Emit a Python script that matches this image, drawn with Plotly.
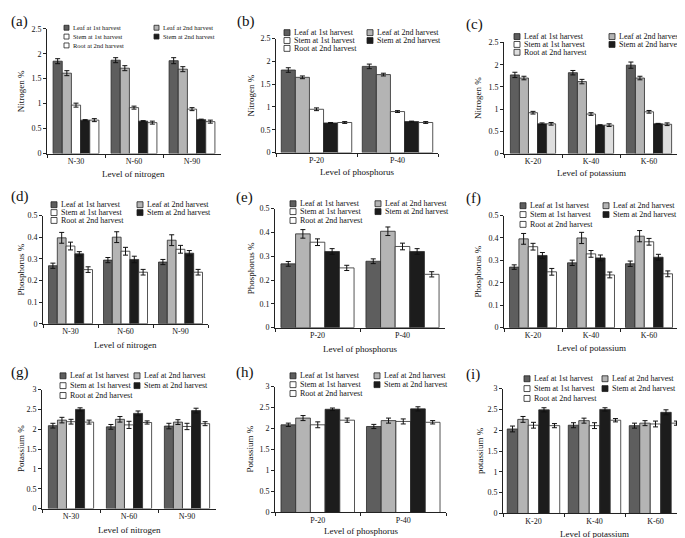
import plotly.graph_objects as go

W, H = 685, 538

series_names = ["Leaf at 1st harvest", "Leaf at 2nd harvest", "Stem at 1st harvest",
                "Stem at 2nd harvest", "Root at 2nd harvest"]

n_levels = ["N-30", "N-60", "N-90"]
p_levels = ["P-20", "P-40"]
k_levels = ["K-20", "K-40", "K-60"]

# (a) Nitrogen % vs nitrogen level
a_vals = [[1.85, 1.87, 1.86], [1.61, 1.71, 1.69], [0.97, 0.92, 0.89], [0.67, 0.65, 0.68], [0.67, 0.62, 0.64]]
a_err = [[0.05, 0.05, 0.06], [0.05, 0.05, 0.05], [0.04, 0.03, 0.03], [0.01, 0.01, 0.01], [0.03, 0.03, 0.03]]
# (b) Nitrogen % vs phosphorus level
b_vals = [[1.81, 1.89], [1.65, 1.71], [0.95, 0.90], [0.65, 0.68], [0.66, 0.66]]
b_err = [[0.05, 0.05], [0.03, 0.03], [0.03, 0.02], [0.01, 0.01], [0.02, 0.02]]
# (c) Nitrogen % vs potassium level
c_vals = [[1.77, 1.82, 1.99], [1.70, 1.62, 1.70], [0.92, 0.89, 0.94], [0.67, 0.64, 0.67], [0.67, 0.64, 0.66]]
c_err = [[0.06, 0.05, 0.07], [0.04, 0.05, 0.04], [0.03, 0.03, 0.03], [0.02, 0.01, 0.01], [0.03, 0.03, 0.03]]
# (d) Phosphorus % vs nitrogen level
d_vals = [[0.268, 0.294, 0.285], [0.397, 0.400, 0.386], [0.359, 0.335, 0.344], [0.323, 0.297, 0.326], [0.250, 0.238, 0.238]]
d_err = [[0.012, 0.012, 0.012], [0.025, 0.025, 0.025], [0.018, 0.018, 0.018], [0.010, 0.015, 0.012], [0.013, 0.013, 0.013]]
# (e) Phosphorus % vs phosphorus level
e_vals = [[0.268, 0.279], [0.394, 0.405], [0.359, 0.341], [0.320, 0.320], [0.251, 0.224]]
e_err = [[0.010, 0.010], [0.018, 0.018], [0.014, 0.014], [0.012, 0.012], [0.011, 0.011]]
# (f) Phosphorus % vs potassium level
f_vals = [[0.270, 0.289, 0.285], [0.396, 0.400, 0.408], [0.361, 0.329, 0.383], [0.322, 0.311, 0.314], [0.249, 0.235, 0.240]]
f_err = [[0.010, 0.012, 0.012], [0.024, 0.025, 0.025], [0.015, 0.015, 0.015], [0.013, 0.013, 0.013], [0.015, 0.013, 0.013]]
# (g) Potassium % vs nitrogen level
g_vals = [[2.09, 2.06, 2.08], [2.23, 2.25, 2.18], [2.19, 2.11, 2.07], [2.50, 2.40, 2.47], [2.18, 2.17, 2.14]]
g_err = [[0.06, 0.06, 0.07], [0.07, 0.07, 0.06], [0.06, 0.09, 0.08], [0.04, 0.06, 0.06], [0.05, 0.04, 0.05]]
# (h) Potassium % vs phosphorus level
h_vals = [[2.09, 2.05], [2.25, 2.19], [2.09, 2.17], [2.46, 2.47], [2.20, 2.15]]
h_err = [[0.04, 0.05], [0.06, 0.06], [0.07, 0.06], [0.03, 0.05], [0.05, 0.04]]
# (i) potassium % vs potassium level
i_vals = [[2.03, 2.12, 2.11], [2.26, 2.23, 2.17], [2.12, 2.11, 2.15], [2.49, 2.50, 2.43], [2.11, 2.24, 2.17]]
i_err = [[0.07, 0.06, 0.06], [0.07, 0.06, 0.06], [0.07, 0.07, 0.07], [0.05, 0.04, 0.06], [0.05, 0.04, 0.05]]

colors = ["#5e5e5e", "#b4b4b4", "#ffffff", "#1c1c1c", "#ffffff"]
colors_c = ["#5e5e5e", "#b4b4b4", "#ffffff", "#1c1c1c", "#dedede"]

FONT = "Liberation Serif"

# panel layout: (label, vals, err, cats, ytitle, xtitle, ymax, dtick,
#   plot box px (x0, x1, ytop, ybot), group width, legend cols x, legend rows y, legend font,
#   label pos, ytitle x, xtitle y, colors)
panels = [
    ("(a)", a_vals, a_err, n_levels, "Nitrogen %", "Level of nitrogen", 2.5, 0.5,
     (39, 213, 17, 144), 0.79, (56, 146), (16, 25, 34), 6.5, (1, 10), 13, 165, colors),
    ("(b)", b_vals, b_err, p_levels, "Nitrogen %", "Level of phosphorus", 2.5, 0.5,
     (268, 430, 27, 143), 0.87, (276, 359), (21, 29, 37), 8, (227, 10), 243, 163, colors),
    ("(c)", c_vals, c_err, k_levels, "Nitrogen %", "Level of potassium", 2.5, 0.5,
     (496, 670, 31, 144), 0.78, (506, 601), (25, 33, 41), 8, (456, 13), 470, 164, colors_c),
    ("(d)", d_vals, d_err, n_levels, "Phosphorus %", "Level of nitrogen", 0.5, 0.1,
     (35, 200, 207, 317), 0.80, (43, 129), (196, 204, 212), 8, (1, 188), 13, 339, colors),
    ("(e)", e_vals, e_err, p_levels, "Phosphorus %", "Level of phosphorus", 0.5, 0.1,
     (267, 437, 200, 321), 0.86, (282, 367), (195, 203, 212), 8, (226, 189), 243, 343, colors),
    ("(f)", f_vals, f_err, k_levels, "Phosphorus %", "Level of potassium", 0.5, 0.1,
     (496, 670, 207, 321), 0.81, (512, 595), (197, 206, 216), 8, (456, 190), 470, 342, colors),
    ("(g)", g_vals, g_err, n_levels, "Potassium %", "Level of nitrogen", 3, 0.5,
     (34, 208, 384, 505), 0.78, (52, 126), (370, 380, 390), 8, (1, 367), 13, 527, colors),
    ("(h)", h_vals, h_err, p_levels, "Potassium %", "Level of phosphorus", 3, 0.5,
     (267, 438, 381, 509), 0.86, (282, 366), (370, 379, 388), 8, (226, 367), 242, 528, colors),
    ("(i)", i_vals, i_err, k_levels, "potassium %", "Level of potassium", 3, 0.5,
     (495, 678, 383, 510), 0.86, (516, 594), (373, 383, 393), 8, (456, 369), 472, 531, colors),
]


def px(x):
    return x / W


def py(y):
    return 1 - y / H


fig = go.Figure()
annotations = []
shapes = []
layout_axes = {}

for idx, (lab, vals, errs, cats, ytitle, xtitle, ymax, dtick, box, gw, lcols, lrows,
          lfont, lpos, ytx, xty, cols) in enumerate(panels):
    n = idx + 1
    xa = "x" if n == 1 else f"x{n}"
    ya = "y" if n == 1 else f"y{n}"
    xkey = "xaxis" if n == 1 else f"xaxis{n}"
    ykey = "yaxis" if n == 1 else f"yaxis{n}"
    x0, x1, yt, yb = box
    bw = gw / 5
    for s in range(5):
        fig.add_trace(go.Bar(
            x=cats, y=vals[s], xaxis=xa, yaxis=ya, name=series_names[s],
            width=bw, offset=-gw / 2 + s * bw,
            marker=dict(color=cols[s], line=dict(color="#2a2a2a", width=0.8)),
            error_y=dict(type="data", array=errs[s], color="#111111", thickness=1, width=2.5),
            showlegend=False,
        ))
    layout_axes[xkey] = dict(
        domain=[px(x0), px(x1)], anchor=ya, type="category",
        range=[-0.5, len(cats) - 0.5],
        showline=True, linecolor="#222", linewidth=1,
        ticks="outside", tickson="boundaries", ticklen=3, tickcolor="#222",
        tickfont=dict(family=FONT, size=8, color="#111"), showgrid=False, zeroline=False,
    )
    layout_axes[ykey] = dict(
        domain=[py(yb), py(yt)], anchor=xa, range=[0, ymax], dtick=dtick,
        showline=True, linecolor="#222", linewidth=1,
        ticks="outside", ticklen=3, tickcolor="#222",
        tickfont=dict(family=FONT, size=8, color="#111"), showgrid=False, zeroline=False,
    )
    # panel label
    annotations.append(dict(text=lab, x=px(lpos[0]), y=py(lpos[1]), xref="paper", yref="paper",
                            xanchor="left", yanchor="middle", showarrow=False,
                            font=dict(family=FONT, size=15, color="#111")))
    # axis titles
    annotations.append(dict(text=ytitle, x=px(ytx), y=py((yt + yb) / 2), xref="paper", yref="paper",
                            xanchor="center", yanchor="middle", textangle=-90, showarrow=False,
                            font=dict(family=FONT, size=9, color="#111")))
    annotations.append(dict(text=xtitle, x=px((x0 + x1) / 2), y=py(xty), xref="paper", yref="paper",
                            xanchor="center", yanchor="middle", showarrow=False,
                            font=dict(family=FONT, size=9, color="#111")))
    # legend entries (2 columns, 3 rows)
    order = [(0, 0, 0), (1, 1, 0), (2, 0, 1), (3, 1, 1), (4, 0, 2)]
    sq = 5 if lfont < 7 else 6
    for s, c, r in order:
        lx = lcols[c]
        ly = lrows[r]
        shapes.append(dict(type="rect", xref="paper", yref="paper",
                           x0=px(lx), x1=px(lx + sq), y0=py(ly + sq / 2), y1=py(ly - sq / 2),
                           fillcolor=cols[s], line=dict(color="#222", width=0.8)))
        annotations.append(dict(text=series_names[s], x=px(lx + sq + 1.5), y=py(ly), xref="paper",
                                yref="paper", xanchor="left", yanchor="middle", showarrow=False,
                                font=dict(family=FONT, size=lfont, color="#111")))

fig.update_layout(
    width=W, height=H, margin=dict(l=0, r=0, t=0, b=0),
    paper_bgcolor="white", plot_bgcolor="white",
    barmode="group", showlegend=False,
    annotations=annotations, shapes=shapes,
    **layout_axes,
)

fig.write_html("out.html")
